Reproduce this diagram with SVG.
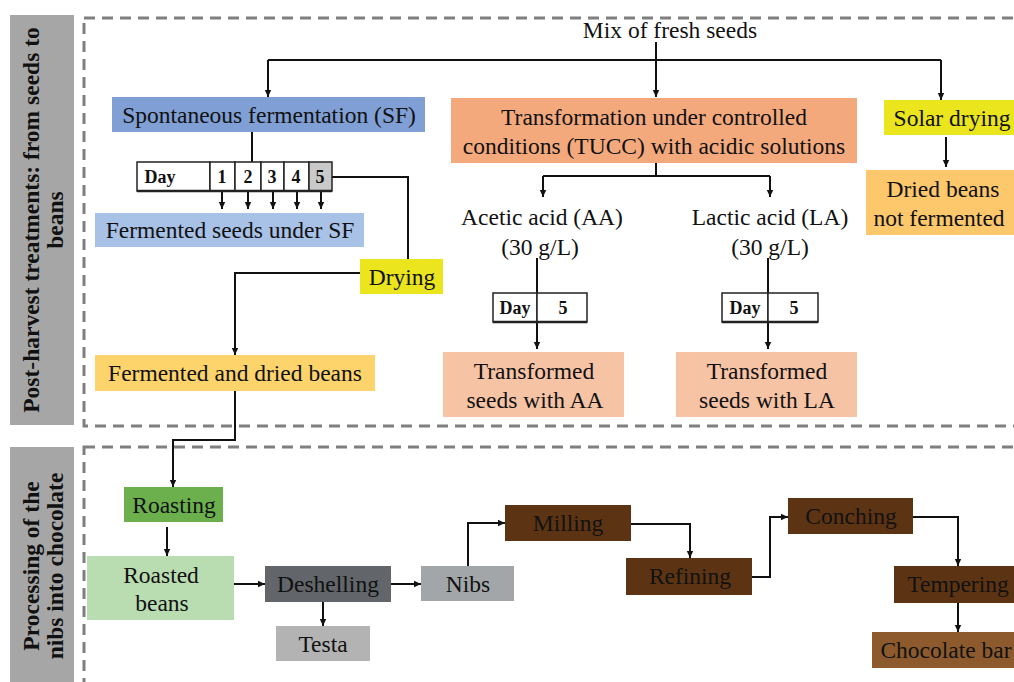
<svg xmlns="http://www.w3.org/2000/svg" width="1014" height="682" viewBox="0 0 1014 682">
<defs>
<marker id="ah" markerWidth="8" markerHeight="8" refX="7" refY="4" orient="auto" markerUnits="userSpaceOnUse">
<path d="M0,0.8 L7,4 L0,7.2 Z" fill="#111"/>
</marker>
<style>
.t{font-family:"Liberation Serif","Times New Roman",serif;font-size:23.5px;fill:#111;text-anchor:middle}
.b{font-family:"Liberation Serif","Times New Roman",serif;font-weight:bold;font-size:18px;fill:#111;text-anchor:middle}
.side{font-family:"Liberation Serif","Times New Roman",serif;font-weight:bold;font-size:23.5px;fill:#111;text-anchor:middle}
.dash{fill:none;stroke:#7f7f7f;stroke-width:3;stroke-dasharray:11 7}
.c{fill:none;stroke:#111;stroke-width:2}
.a{fill:none;stroke:#111;stroke-width:2;marker-end:url(#ah)}
.cell{fill:#fff;stroke:#222;stroke-width:1.5}
.tb{stroke:#222;stroke-width:2.5}
</style>
</defs>
<rect width="1014" height="682" fill="#fff"/>

<!-- section frames -->
<g id="section-top">
<rect x="10" y="15" width="64" height="410" fill="#a6a6a6"/>
<text class="side" transform="rotate(-90)"><tspan x="-220" y="39">Post-harvest treatments: from seeds to</tspan><tspan x="-220" y="63">beans</tspan></text>
<rect class="dash" x="84" y="18" width="950" height="408"/>
</g>
<g id="section-bottom">
<rect x="10" y="447" width="64" height="240" fill="#a6a6a6"/>
<text class="side" transform="rotate(-90)"><tspan x="-566" y="39">Processing of the</tspan><tspan x="-566" y="63">nibs into chocolate</tspan></text>
<rect class="dash" x="84" y="447" width="950" height="260"/>
</g>

<!-- connectors -->
<g id="connectors">
<path class="a" d="M656,42 V97"/>
<path class="c" d="M268,60 H941"/>
<path class="a" d="M268,60 V97"/>
<path class="a" d="M941,60 V100"/>
<path class="c" d="M252,132 V162"/>
<path class="a" d="M222,192 V209"/>
<path class="a" d="M248,192 V209"/>
<path class="a" d="M273,192 V209"/>
<path class="a" d="M297,192 V209"/>
<path class="a" d="M321,192 V209"/>
<path class="c" d="M332,177 H408 V259"/>
<path class="a" d="M360,273 H235 V355"/>
<path class="a" d="M235,391 V440 H173 V487"/>
<path class="a" d="M167,527 V556"/>
<path class="a" d="M234,584 H265"/>
<path class="a" d="M323,602 V626"/>
<path class="a" d="M391,584 H421"/>
<path class="a" d="M468,566 V523 H505"/>
<path class="a" d="M631,524 H690 V558"/>
<path class="a" d="M752,577 H770 V517 H788"/>
<path class="a" d="M913,517 H958 V566"/>
<path class="a" d="M958,603 V632"/>
<path class="a" d="M946,137 V167"/>
<path class="c" d="M656,163 V176"/>
<path class="c" d="M543,176 H770"/>
<path class="a" d="M543,176 V197"/>
<path class="a" d="M770,176 V197"/>
<path class="c" d="M537,258 V293"/>
<path class="a" d="M537,323 V349"/>
<path class="c" d="M768,258 V293"/>
<path class="a" d="M768,323 V349"/>
</g>

<!-- top section nodes -->
<g id="mix">
<text class="t" x="670" y="38">Mix of fresh seeds</text>
</g>
<g id="sf">
<rect x="112" y="97" width="313" height="35" fill="#7f9fd5"/>
<text class="t" x="269" y="123">Spontaneous fermentation (SF)</text>
</g>
<g id="sf-days">
<rect class="cell" x="137" y="162" width="73" height="29"/>
<rect class="cell" x="210" y="162" width="25" height="29"/>
<rect class="cell" x="235" y="162" width="26" height="29"/>
<rect class="cell" x="261" y="162" width="23" height="29"/>
<rect class="cell" x="284" y="162" width="25" height="29"/>
<rect class="cell" x="309" y="162" width="23" height="29" style="fill:#c9c9c9"/>
<line class="tb" x1="137" y1="191" x2="332" y2="191"/>
<text class="b" x="160" y="183">Day</text>
<text class="b" x="222" y="183">1</text>
<text class="b" x="248" y="183">2</text>
<text class="b" x="272" y="183">3</text>
<text class="b" x="296" y="183">4</text>
<text class="b" x="320" y="183">5</text>
</g>
<g id="fermented-seeds">
<rect x="95" y="213" width="269" height="34" fill="#a8c1e6"/>
<text class="t" x="230" y="238">Fermented seeds under SF</text>
</g>
<g id="drying">
<rect x="360" y="259" width="83" height="35" fill="#ebe51e"/>
<text class="t" x="402" y="285">Drying</text>
</g>
<g id="fermented-dried">
<rect x="95" y="355" width="280" height="36" fill="#fdd46c"/>
<text class="t" x="235" y="381">Fermented and dried beans</text>
</g>
<g id="tucc">
<rect x="451" y="98" width="406" height="65" fill="#f4a97d"/>
<text class="t" x="654" y="125">Transformation under controlled</text>
<text class="t" x="654" y="154">conditions (TUCC) with acidic solutions</text>
</g>
<g id="solar">
<rect x="884" y="100" width="135" height="35" fill="#ebe51e"/>
<text class="t" x="952" y="126">Solar drying</text>
</g>
<g id="dried-beans">
<rect x="866" y="170" width="153" height="65" fill="#fdc76b"/>
<text class="t" x="943" y="197">Dried beans</text>
<text class="t" x="939" y="226">not fermented</text>
</g>
<g id="aa">
<text class="t" x="542" y="225">Acetic acid (AA)</text>
<text class="t" x="540" y="255">(30 g/L)</text>
</g>
<g id="la">
<text class="t" x="770" y="225">Lactic acid (LA)</text>
<text class="t" x="770" y="255">(30 g/L)</text>
</g>
<g id="aa-days">
<rect class="cell" x="493" y="293" width="44" height="29"/>
<rect class="cell" x="537" y="293" width="50" height="29"/>
<line class="tb" x1="493" y1="322" x2="587" y2="322"/>
<text class="b" x="515" y="314">Day</text>
<text class="b" x="563" y="314">5</text>
</g>
<g id="la-days">
<rect class="cell" x="722" y="293" width="46" height="29"/>
<rect class="cell" x="768" y="293" width="50" height="29"/>
<line class="tb" x1="722" y1="322" x2="818" y2="322"/>
<text class="b" x="745" y="314">Day</text>
<text class="b" x="794" y="314">5</text>
</g>
<g id="aa-seeds">
<rect x="443" y="352" width="181" height="65" fill="#f6c3a5"/>
<text class="t" x="534" y="379">Transformed</text>
<text class="t" x="535" y="408">seeds with AA</text>
</g>
<g id="la-seeds">
<rect x="676" y="352" width="181" height="65" fill="#f6c3a5"/>
<text class="t" x="767" y="379">Transformed</text>
<text class="t" x="767" y="408">seeds with LA</text>
</g>

<!-- bottom section nodes -->
<g id="roasting">
<rect x="124" y="487" width="99" height="35" fill="#6cb04e"/>
<text class="t" x="174" y="513">Roasting</text>
</g>
<g id="roasted-beans">
<rect x="87" y="556" width="147" height="64" fill="#b9ddb1"/>
<text class="t" x="161" y="583">Roasted</text>
<text class="t" x="162" y="611">beans</text>
</g>
<g id="deshelling">
<rect x="265" y="566" width="126" height="36" fill="#626569"/>
<text class="t" x="328" y="592">Deshelling</text>
</g>
<g id="testa">
<rect x="276" y="626" width="94" height="35" fill="#b3b3b3"/>
<text class="t" x="323" y="652">Testa</text>
</g>
<g id="nibs">
<rect x="421" y="566" width="93" height="35" fill="#a3a6a9"/>
<text class="t" x="468" y="592">Nibs</text>
</g>
<g id="milling">
<rect x="505" y="505" width="126" height="36" fill="#5d3413"/>
<text class="t" x="568" y="531">Milling</text>
</g>
<g id="refining">
<rect x="626" y="558" width="126" height="37" fill="#5d3413"/>
<text class="t" x="690" y="584">Refining</text>
</g>
<g id="conching">
<rect x="788" y="498" width="125" height="36" fill="#5d3413"/>
<text class="t" x="851" y="524">Conching</text>
</g>
<g id="tempering">
<rect x="894" y="566" width="125" height="37" fill="#5d3413"/>
<text class="t" x="958" y="592">Tempering</text>
</g>
<g id="chocolate-bar">
<rect x="872" y="632" width="147" height="36" fill="#8c5a2d"/>
<text class="t" x="946" y="658">Chocolate bar</text>
</g>
</svg>
